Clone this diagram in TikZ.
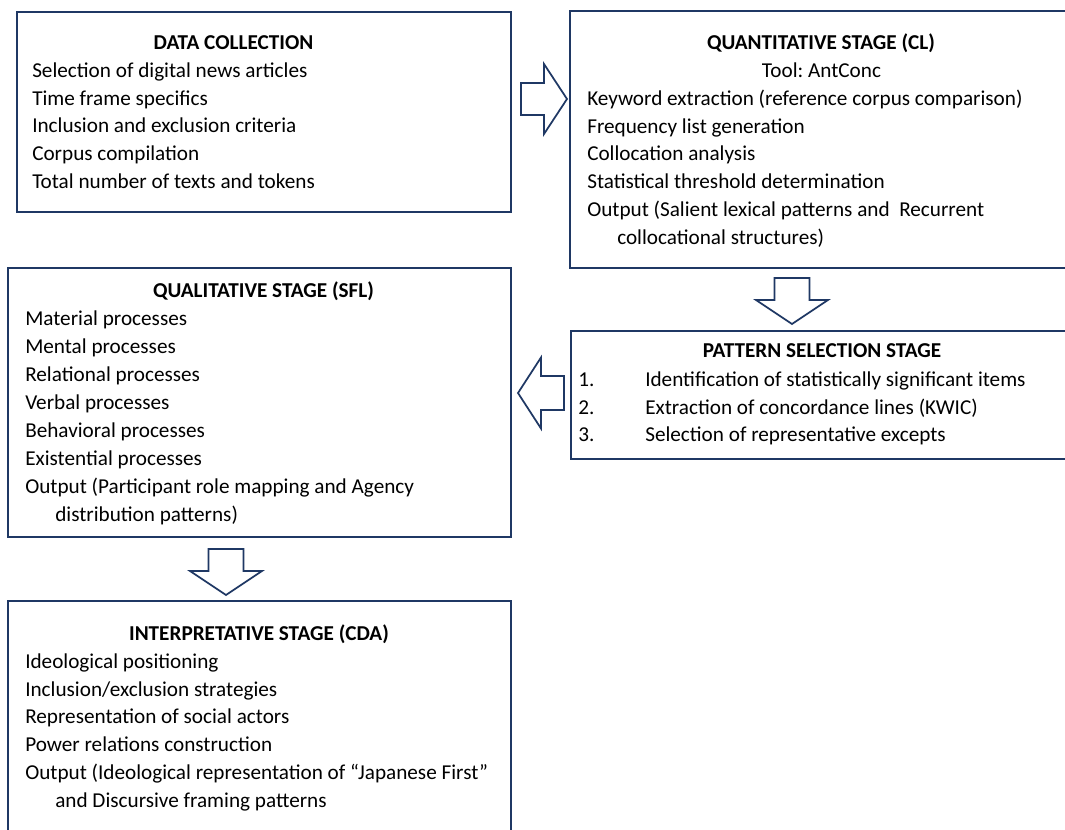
\documentclass[tikz,border=0pt]{standalone}
\usepackage{fontspec}
\setmainfont{Carlito}
\usetikzlibrary{fit,calc}
\definecolor{navy}{RGB}{31,56,100}
\frenchspacing
\tikzset{
  box/.style={draw=navy, line width=1.5pt, inner sep=0pt, fill=none},
  txt/.style={anchor=base west, inner sep=0pt, font=\fontsize{15.9}{20}\selectfont\frenchspacing},
  ttl/.style={anchor=base, inner sep=0pt, font=\fontsize{15.9}{20}\selectfont\bfseries},
  blockarrow/.style={draw=navy, line width=1.3pt, fill=white, line join=miter},
  pics/rarrow/.style={code={\draw[blockarrow] (0,-16)--(23,-16)--(23,-35)--(46,0)--(23,35)--(23,16)--(0,16)--cycle;}},
  pics/larrow/.style={code={\draw[blockarrow] (0,-17)--(-23,-17)--(-23,-35.5)--(-46,0)--(-23,35.5)--(-23,17)--(0,17)--cycle;}},
  pics/darrow/.style={code={\draw[blockarrow] (-17.5,0)--(17.5,0)--(17.5,22)--(36,22)--(0,46)--(-36,22)--(-17.5,22)--cycle;}},
}
\begin{document}
\begin{tikzpicture}[x=0.75pt,y=-0.75pt]
\useasboundingbox (0,0) rectangle (1065,830);
\clip (0,0) rectangle (1065,830);
\fill[white] (0,0) rectangle (1065,830);
% boxes
\node[box, fit={(17,12) (511,212)}] (b1) {};
\node[box, fit={(570,11) (1080,268)}] (b2) {};
\node[box, fit={(8,268) (511,537)}] (b3) {};
\node[box, fit={(571,331) (1080,459)}] (b4) {};
\node[box, fit={(8,601) (511,845)}] (b5) {};
% block arrows
\pic at ($(b1.north east)+(9,88)$) {rarrow};
\pic at ($(b2.south west)+(223,9)$) {darrow};
\pic at ($(b4.north west)+(-6,63)$) {larrow};
\pic at ($(b3.south west)+(219,11)$) {darrow};
% box 1 text
\node[ttl] (b1h) at (233.5,50) {DATA COLLECTION};
\foreach \t [count=\i from 0] in {Selection of digital news articles,Time frame specifics,Inclusion and exclusion criteria,Corpus compilation,Total number of texts and tokens}
  \node[txt] (b1t\i) at (32,77.3+27.8*\i) {\t};
% box 2 text
\node[ttl] (b2h) at (821,50) {QUANTITATIVE STAGE (CL)};
\node[txt, anchor=base] (b2s) at (821.5,77.5) {Tool: AntConc};
\foreach \t [count=\i from 0] in {Keyword extraction (reference corpus comparison),Frequency list generation,Collocation analysis,Statistical threshold determination,Output (Salient lexical patterns and\ \ Recurrent}
  \node[txt] (b2t\i) at (587,105.3+27.8*\i) {\t};
\node[txt] (b2t5) at (617,244.3) {collocational structures)};
% box 3 text
\node[ttl] (b3h) at (263.5,298) {QUALITATIVE STAGE (SFL)};
\foreach \t [count=\i from 0] in {Material processes,Mental processes,Relational processes,Verbal processes,Behavioral processes,Existential processes,Output (Participant role mapping and Agency}
  \node[txt] (b3t\i) at (25,326+27.9*\i) {\t};
\node[txt] (b3t7) at (55,521.3) {distribution patterns)};
% box 4 text
\node[ttl] (b4h) at (822,358) {PATTERN SELECTION STAGE};
\foreach \n/\t [count=\i from 0] in {1./Identification of statistically significant items,2./Extraction of concordance lines (KWIC),3./Selection of representative excepts}{
  \node[txt] (b4n\i) at (578,387+27.5*\i) {\n};
  \node[txt] (b4t\i) at (645,387+27.5*\i) {\t};
}
% box 5 text
\node[ttl] (b5h) at (259,641) {INTERPRETATIVE STAGE (CDA)};
\foreach \t [count=\i from 0] in {Ideological positioning,Inclusion/exclusion strategies,Representation of social actors,Power relations construction,Output (Ideological representation of “Japanese First”}
  \node[txt] (b5t\i) at (25,668.5+27.7*\i) {\t};
\node[txt] (b5t5) at (55,807) {and Discursive framing patterns};
\end{tikzpicture}
\end{document}
